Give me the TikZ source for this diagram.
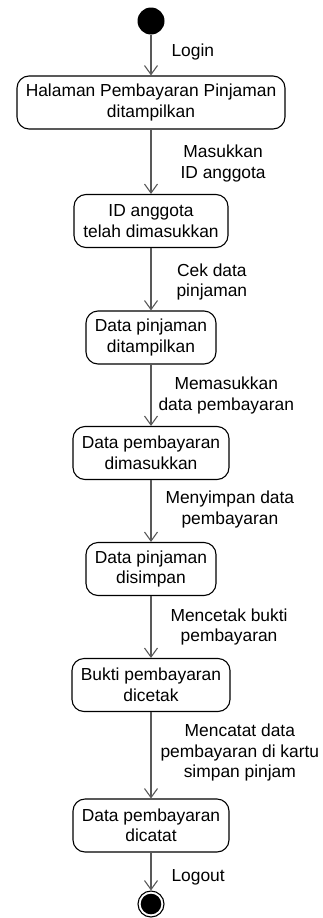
\documentclass[tikz,border=0pt]{standalone}
\usepackage{fontspec}
\setmainfont{Liberation Sans}
\usetikzlibrary{arrows.meta}

\begin{document}
\begin{tikzpicture}[x=1pt,y=-1pt,
    every node/.style={font=\fontsize{17.4}{20.5}\selectfont, align=center}]
    \useasboundingbox (0,0) rectangle (323,918);

    \begin{scope}[every node/.style={font=\fontsize{17.4}{20.5}\selectfont, align=center,
                  rectangle, rounded corners=12pt, draw, line width=1.1pt, minimum height=53pt}]
        \node[minimum width=268pt] (A) at (151,102.5) {Halaman Pembayaran Pinjaman\\ditampilkan};
        \node[minimum width=154pt] (B) at (151,221)   {ID anggota\\telah dimasukkan};
        \node[minimum width=130pt] (C) at (151,337.5) {Data pinjaman\\ditampilkan};
        \node[minimum width=156pt] (D) at (151,453)   {Data pembayaran\\dimasukkan};
        \node[minimum width=130pt] (E) at (151,569)   {Data pinjaman\\disimpan};
        \node[minimum width=158pt] (F) at (151,685)   {Bukti pembayaran\\dicetak};
        \node[minimum width=156pt] (G) at (151,825.5) {Data pembayaran\\dicatat};
    \end{scope}

    \node[circle, fill=black, minimum size=27pt, inner sep=0pt] (S) at (151,21) {};
    \node[circle, draw, line width=1.1pt, minimum size=26pt, inner sep=0pt,
          path picture={\fill (path picture bounding box.center) circle (10.3pt);}] (T) at (151,904) {};

    \begin{scope}[>={Straight Barb[length=9pt,width=13pt]},
                  every node/.style={font=\fontsize{17.4}{20.5}\selectfont, align=center,
                                     anchor=west, inner sep=0pt},
                  every edge/.style={draw=black!65, line width=1.1pt}]
        \path [->] (S) edge node [xshift=20pt, yshift=3pt]    {Login} (A);
        \path [->] (A) edge node [xshift=29pt, yshift=-1.5pt] {Masukkan\\ID anggota} (B);
        \path [->] (B) edge node [xshift=25pt, yshift=-2.5pt] {Cek data\\pinjaman} (C);
        \path [->] (C) edge node [xshift=7pt]                 {Memasukkan\\data pembayaran} (D);
        \path [->] (D) edge node [xshift=14pt, yshift=1.5pt]  {Menyimpan data\\pembayaran} (E);
        \path [->] (E) edge node [xshift=19pt]                {Mencetak bukti\\pembayaran} (F);
        \path [->] (F) edge node [xshift=9pt, yshift=2.5pt]   {Mencatat data\\pembayaran di kartu\\simpan pinjam} (G);
        \path [->] (G) edge node [xshift=20pt, yshift=-5.5pt] {Logout} (T);
    \end{scope}
\end{tikzpicture}
\end{document}
